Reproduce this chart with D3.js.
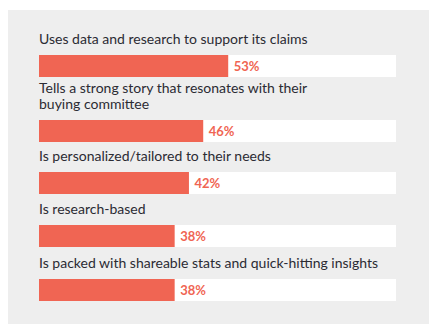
<!DOCTYPE html>
<html><head><meta charset="utf-8">
<script src="https://cdn.jsdelivr.net/npm/d3@7"></script>
<style>body{margin:0;background:#fff}</style>
</head><body>
<script>
const categories = [
  ["Uses data and research to support its claims"],
  ["Tells a strong story that resonates with their", "buying committee"],
  ["Is personalized/tailored to their needs"],
  ["Is research-based"],
  ["Is packed with shareable stats and quick-hitting insights"]
];
const values = [53, 46, 42, 38, 38];
const valueLabels = ["53%", "46%", "42%", "38%", "38%"];

const W = 440, H = 336;
const svg = d3.select("body").append("svg").attr("width", W).attr("height", H);
svg.append("rect").attr("x", 8).attr("y", 10).attr("width", 421).attr("height", 314).attr("fill", "#eeeeee");

const x = d3.scaleLinear().domain([0, 100]).range([39, 396]);
const barTops = [55, 120, 172, 225, 279];
const barH = 22;
const font = "Lato, sans-serif";

const g = svg.selectAll("g.row").data(values).join("g").attr("class", "row");
g.append("rect").attr("x", x(0)).attr("y", (d, i) => barTops[i]).attr("width", x(100) - x(0)).attr("height", barH).attr("fill", "#ffffff");
g.append("rect").attr("x", x(0)).attr("y", (d, i) => barTops[i]).attr("width", d => x(d) - x(0)).attr("height", barH).attr("fill", "#f06553");
g.append("text").attr("x", d => x(d) + 5.5).attr("y", (d, i) => barTops[i] + barH / 2 + 4.5)
  .attr("font-family", font).attr("font-weight", 700).attr("font-size", 13).attr("fill", "#f06553")
  .text((d, i) => valueLabels[i]);
g.each(function (d, i) {
  const lines = categories[i];
  lines.forEach((ln, j) => {
    d3.select(this).append("text").attr("font-family", font).attr("font-size", 14).attr("fill", "#2b2b33")
      .attr("x", x(0)).attr("y", barTops[i] - 11 - (lines.length - 1 - j) * 16).text(ln);
  });
});
</script>
</body></html>
